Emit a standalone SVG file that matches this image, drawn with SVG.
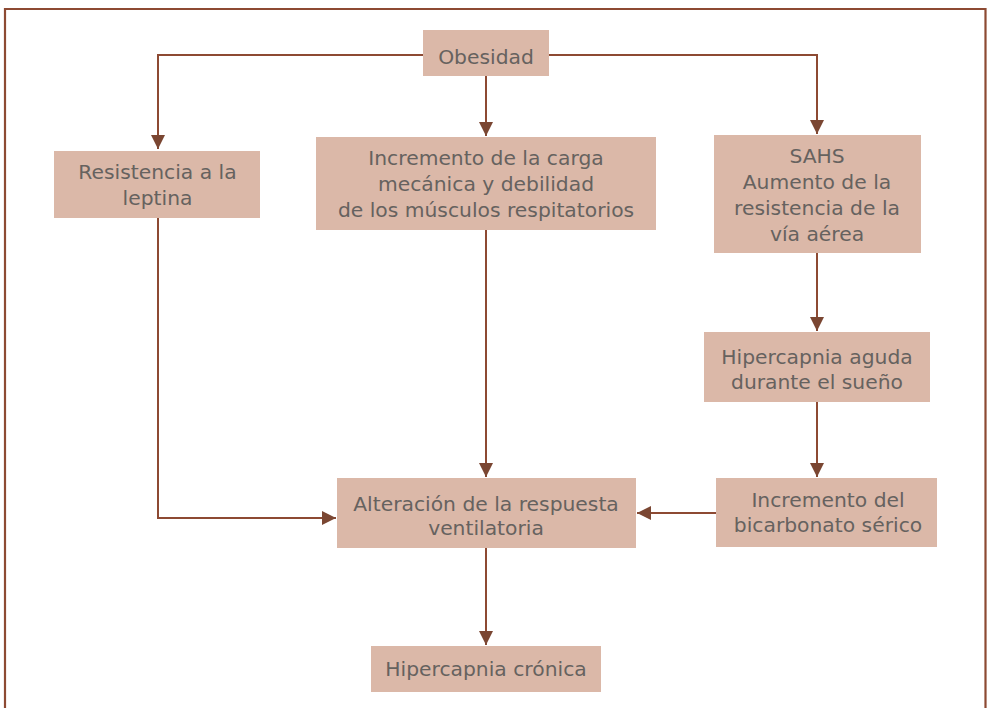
<svg xmlns="http://www.w3.org/2000/svg" width="987" height="708" viewBox="0 0 987 708">
  <defs>
    <marker id="arrow" viewBox="0 0 14 16" refX="14" refY="8" markerWidth="14" markerHeight="16" markerUnits="userSpaceOnUse" orient="auto">
      <path d="M0,1 L14,8 L0,15 Z" fill="#7a4632"/>
    </marker>
    <style>
      .frame { fill: none; stroke: #8d4a33; stroke-width: 2.2; }
      .box rect { fill: #dbb8a8; }
      .box text { font-family: "DejaVu Sans", "Liberation Sans", sans-serif; font-size: 20.3px; fill: #66625f; text-anchor: middle; }
      .conn path { fill: none; stroke: #8d4a33; stroke-width: 2; }
    </style>
  </defs>

  <rect width="987" height="708" fill="#ffffff"/>
  <!-- outer panel frame, open at the bottom -->
  <path class="frame" d="M5,712 V9 H985.5 V712"/>

  <g id="connectors" class="conn">
    <path d="M423,55 H158 V149" marker-end="url(#arrow)"/>
    <path d="M549,55 H817 V134" marker-end="url(#arrow)"/>
    <path d="M486,76 V136" marker-end="url(#arrow)"/>
    <path d="M158,218 V518 H336" marker-end="url(#arrow)"/>
    <path d="M486,230 V477" marker-end="url(#arrow)"/>
    <path d="M817,253 V331" marker-end="url(#arrow)"/>
    <path d="M817,402 V477" marker-end="url(#arrow)"/>
    <path d="M716,513 H637" marker-end="url(#arrow)"/>
    <path d="M486,548 V645" marker-end="url(#arrow)"/>
  </g>

  <g id="obesidad" class="box">
    <rect x="423" y="30" width="126" height="46"/>
    <text x="486" y="64">Obesidad</text>
  </g>

  <g id="leptina" class="box">
    <rect x="54" y="151" width="206" height="67"/>
    <text x="157.5" y="179">Resistencia a la</text>
    <text x="157.5" y="205">leptina</text>
  </g>

  <g id="carga" class="box">
    <rect x="316" y="137" width="340" height="93"/>
    <text x="486" y="165">Incremento de la carga</text>
    <text x="486" y="191">mecánica y debilidad</text>
    <text x="486" y="217">de los músculos respitatorios</text>
  </g>

  <g id="sahs" class="box">
    <rect x="714" y="135" width="207" height="118"/>
    <text x="817" y="163">SAHS</text>
    <text x="817" y="189">Aumento de la</text>
    <text x="817" y="215">resistencia de la</text>
    <text x="817" y="241">vía aérea</text>
  </g>

  <g id="hipercapnia-aguda" class="box">
    <rect x="704" y="332" width="226" height="70"/>
    <text x="817" y="364">Hipercapnia aguda</text>
    <text x="817" y="389">durante el sueño</text>
  </g>

  <g id="bicarbonato" class="box">
    <rect x="716" y="478" width="221" height="69"/>
    <text x="828" y="507">Incremento del</text>
    <text x="828" y="532">bicarbonato sérico</text>
  </g>

  <g id="alteracion" class="box">
    <rect x="337" y="478" width="299" height="70"/>
    <text x="486" y="511">Alteración de la respuesta</text>
    <text x="486" y="535">ventilatoria</text>
  </g>

  <g id="hipercapnia-cronica" class="box">
    <rect x="371" y="646" width="230" height="46"/>
    <text x="486" y="676">Hipercapnia crónica</text>
  </g>
</svg>
